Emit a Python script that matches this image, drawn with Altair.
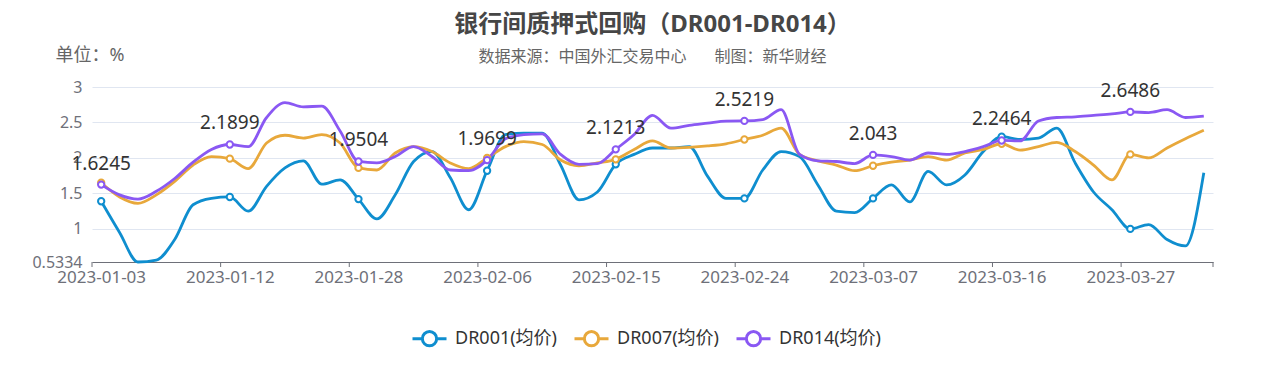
import altair as alt
import pandas as pd

dates = [
    "2023-01-03", "2023-01-04", "2023-01-05", "2023-01-06", "2023-01-09", "2023-01-10", "2023-01-11",
    "2023-01-12", "2023-01-13", "2023-01-16", "2023-01-17", "2023-01-18", "2023-01-19", "2023-01-20",
    "2023-01-28", "2023-01-29", "2023-01-30", "2023-01-31", "2023-02-01", "2023-02-02", "2023-02-03",
    "2023-02-06", "2023-02-07", "2023-02-08", "2023-02-09", "2023-02-10", "2023-02-13", "2023-02-14",
    "2023-02-15", "2023-02-16", "2023-02-17", "2023-02-20", "2023-02-21", "2023-02-22", "2023-02-23",
    "2023-02-24", "2023-02-27", "2023-02-28", "2023-03-01", "2023-03-02", "2023-03-03", "2023-03-06",
    "2023-03-07", "2023-03-08", "2023-03-09", "2023-03-10", "2023-03-13", "2023-03-14", "2023-03-15",
    "2023-03-16", "2023-03-17", "2023-03-20", "2023-03-21", "2023-03-22", "2023-03-23", "2023-03-24",
    "2023-03-27", "2023-03-28", "2023-03-29", "2023-03-30", "2023-03-31",
]

dr001 = [
    1.39, 0.95, 0.5334, 0.56, 0.85, 1.34, 1.43, 1.45, 1.25, 1.60, 1.86, 1.96, 1.63, 1.69,
    1.42, 1.14, 1.48, 1.95, 2.09, 1.72, 1.27, 1.82, 2.33, 2.35, 2.35, 1.90, 1.41, 1.52,
    1.91, 2.05, 2.14, 2.14, 2.16, 1.74, 1.43, 1.43, 1.83, 2.09, 2.02, 1.62, 1.25, 1.23,
    1.43, 1.62, 1.38, 1.81, 1.62, 1.76, 2.09, 2.30, 2.26, 2.28, 2.42, 1.93, 1.52, 1.27,
    1.00, 1.06, 0.85, 0.76, 1.79,
]
dr007 = [
    1.65, 1.45, 1.36, 1.48, 1.67, 1.90, 2.02, 1.99, 1.85, 2.21, 2.32, 2.28, 2.33, 2.21,
    1.86, 1.83, 2.07, 2.16, 2.09, 1.93, 1.85, 2.00, 2.16, 2.23, 2.19, 1.97, 1.89, 1.93,
    1.98, 2.12, 2.24, 2.14, 2.15, 2.17, 2.20, 2.26, 2.32, 2.42, 2.05, 1.96, 1.90, 1.82,
    1.89, 1.94, 1.97, 2.02, 1.97, 2.07, 2.12, 2.20, 2.11, 2.16, 2.22, 2.09, 1.90, 1.69,
    2.05, 2.00, 2.14, 2.27, 2.39,
]
dr014 = [
    1.6245, 1.48, 1.42, 1.53, 1.71, 1.94, 2.12, 2.1899, 2.16, 2.57, 2.78, 2.72, 2.73, 2.38,
    1.9504, 1.93, 2.02, 2.16, 2.02, 1.83, 1.82, 1.9699, 2.27, 2.33, 2.34, 2.05, 1.91, 1.92,
    2.1213, 2.33, 2.60, 2.42, 2.46, 2.49, 2.52, 2.5219, 2.54, 2.68, 2.05, 1.96, 1.95, 1.92,
    2.043, 2.02, 1.97, 2.07, 2.05, 2.09, 2.16, 2.2464, 2.24, 2.52, 2.57, 2.58, 2.60, 2.62,
    2.6486, 2.64, 2.68, 2.57, 2.59,
]

series_names = ["DR001(均价)", "DR007(均价)", "DR014(均价)"]
series_colors = ["#0F8ECF", "#E8A83B", "#8A58F3"]
label_step = 7
y_ticks = [0.5334, 1, 1.5, 2, 2.5, 3]

title_text = "银行间质押式回购（DR001-DR014）"
subtitle_text = "\u3000\u2002数据来源：中国外汇交易中心\u3000\u2002\u2005制图：新华财经"
unit_text = "单位：%"

FONT = "Noto Sans, Noto Sans CJK SC, sans-serif"
W, H = 1121, 175
AXIS_GRAY = "#6E7079"

rows = []
for name, vals in zip(series_names, [dr001, dr007, dr014]):
    for i, (d, v) in enumerate(zip(dates, vals)):
        rows.append({"idx": i, "date": d, "series": name, "value": v, "lbl": str(v)})
df = pd.DataFrame(rows)

n = len(dates)
label_idx = list(range(0, n, label_step))
bounds = [k - 0.5 for k in label_idx] + [n - 0.5]
tick_df = pd.DataFrame({"idx": bounds})

date_arr = "[" + ",".join("'" + d + "'" for d in dates) + "]"

x_scale = alt.Scale(domain=[-0.5, n - 0.5], nice=False, zero=False)
y_scale = alt.Scale(domain=[min(y_ticks), max(y_ticks)], nice=False, zero=False)
c_scale = alt.Scale(domain=series_names, range=series_colors)

x_enc = alt.X(
    "idx:Q",
    scale=x_scale,
    axis=alt.Axis(
        values=label_idx,
        tickCount=len(label_idx) + 5,
        labelExpr=date_arr + "[datum.value]",
        labelOverlap=False,
        ticks=False,
        grid=False,
        domainColor=AXIS_GRAY,
        domainWidth=1,
        labelFontSize=17,
        labelColor=AXIS_GRAY,
        labelPadding=7,
        labelFont=FONT,
        title=None,
    ),
)
y_enc = alt.Y(
    "value:Q",
    scale=y_scale,
    axis=alt.Axis(
        values=y_ticks,
        tickCount=len(y_ticks) + 5,
        labelExpr="'' + datum.value",
        labelOverlap=False,
        ticks=False,
        domain=False,
        gridColor="#E0E6F1",
        gridWidth=1,
        labelFontSize=16,
        labelColor=AXIS_GRAY,
        labelPadding=10,
        labelFont=FONT,
        title=unit_text,
        titleAngle=0,
        titleX=-37,
        titleY=-32,
        titleAlign="left",
        titleBaseline="middle",
        titleFontSize=18,
        titleColor="#666666",
        titleFontWeight="normal",
        titleFont=FONT,
    ),
)

SYMBOL = "M-1,0L-0.42,0M0.42,0L1,0M-0.42,0A0.42,0.42,0,1,1,0.42,0A0.42,0.42,0,1,1,-0.42,0Z"

base = alt.Chart(df)

lines = base.mark_line(interpolate="monotone", strokeWidth=2.8).encode(
    x=x_enc,
    y=y_enc,
    color=alt.Color(
        "series:N",
        scale=c_scale,
        legend=alt.Legend(
            orient="none",
            legendX=319,
            legendY=233,
            direction="horizontal",
            title=None,
            symbolType=SYMBOL,
            symbolSize=1156,
            symbolStrokeWidth=3,
            symbolFillColor="#ffffff",
            labelFontSize=18,
            labelColor="#333333",
            labelFont=FONT,
            labelOffset=7,
            gridAlign="all",
            columnPadding=10,
        ),
    ),
)

points = base.transform_filter(f"datum.idx % {label_step} == 0").mark_point(
    shape="circle", filled=True, fill="#ffffff", size=40, strokeWidth=2, opacity=1
).encode(
    x="idx:Q",
    y="value:Q",
    stroke=alt.Stroke("series:N", scale=c_scale, legend=None),
)

labels = base.transform_filter(
    f"datum.series == '{series_names[2]}' && datum.idx % {label_step} == 0"
).mark_text(dy=-21, fontSize=19, color="#333333", font=FONT, baseline="middle").encode(
    x="idx:Q",
    y="value:Q",
    text="lbl:N",
)

ticks = alt.Chart(tick_df).mark_rule(color=AXIS_GRAY, strokeWidth=1).encode(
    x="idx:Q",
    y=alt.value(H),
    y2=alt.value(H + 5),
)

chart = (
    alt.layer(lines, points, labels, ticks)
    .properties(
        width=W,
        height=H,
        autosize="none",
        padding={"left": 84, "top": 79, "right": 45, "bottom": 102},
        title=alt.TitleParams(
            text=title_text,
            subtitle=subtitle_text,
            anchor="middle",
            fontSize=24,
            fontWeight="bold",
            color="#464646",
            font=FONT,
            subtitleFont=FONT,
            subtitleFontSize=16,
            subtitleColor="#666666",
            subtitlePadding=12,
            offset=-19,
        ),
    )
    .configure_view(stroke=None)
)

chart.save("out.html", embed_options={"renderer": "svg", "actions": False})
